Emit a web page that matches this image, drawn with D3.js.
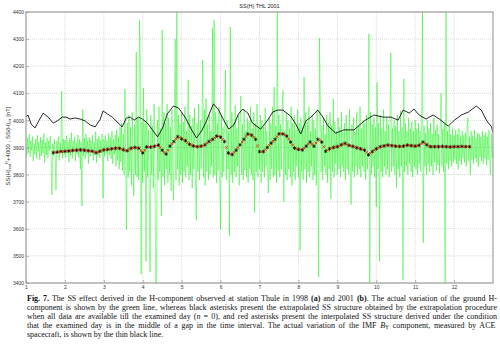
<!DOCTYPE html>
<html>
<head>
<meta charset="utf-8">
<script src="https://cdn.jsdelivr.net/npm/d3@7"></script>
<style>
  body { margin: 0; background: #fff; }
  svg { display: block; }
</style>
</head>
<body>
<svg id="ss_chart" width="500" height="349"></svg>
<script>
// tick labels
const xTicks = [1, 2, 3, 4, 5, 6, 7, 8, 9, 10, 11, 12]
const yTicks = [3400, 3500, 3600, 3700, 3800, 3900, 4000, 4100, 4200, 4300, 4400]

// ground H-component, half-hourly samples starting at day 1 (one row per day)
const hStartDay = 1, hStepDays = 1 / 48
const hValues = [
    3905, 3870, 3935, 3880, 3950, 3865, 3925, 3890, 3940, 3850, 3915, 3875, 3930, 3860, 3945, 3885,
    3920, 3855, 3938, 3870, 3928, 3880, 3952, 3845, 3918, 3872, 3936, 3862, 3925, 3888, 3942, 3858,
    3725, 3915, 3870, 3930, 3866, 3743, 3924, 3878, 3940, 3852, 3918, 3884, 4108, 3860, 3932, 3874,

    3928, 3862, 3944, 3880, 3920, 3846, 3934, 3870, 3955, 3858, 3926, 3882, 3940, 3850, 3918, 3876,
    3946, 3864, 3930, 3820, 3922, 3684, 4040, 3868, 3936, 3858, 3950, 3876, 3924, 3840, 3938, 3866,
    3928, 3884, 3946, 3852, 3920, 3872, 3958, 3845, 3932, 3870, 3942, 3862, 3926, 3880, 3950, 3713,

    3930, 3866, 3944, 3878, 3925, 3850, 3952, 3872, 3936, 3858, 3960, 3840, 3930, 3875, 3948, 3830,
    3965, 3852, 3940, 3820, 3975, 3846, 3990, 3815, 3950, 3800, 4116, 3830, 3596, 3990, 3790, 4020,
    3810, 3975, 3760, 4030, 3820, 3720, 3985, 3800, 4252, 3790, 4010, 3780, 4370, 4215, 3432, 3995,

    3770, 4120, 3810, 3990, 3480, 4040, 3790, 3965, 3760, 3440, 4020, 3800, 3980, 3750, 4060, 3820,
    3400, 3400, 4000, 3780, 4050, 3810, 3970, 3647, 4334, 3790, 4030, 3760, 3990, 3820, 4060, 3770,
    4010, 3800, 3975, 3740, 4040, 3810, 3705, 3990, 4300, 3780, 4400, 3820, 4020, 3760, 3985, 3800,

    4030, 3770, 3995, 3810, 4050, 3790, 3960, 3830, 4150, 3780, 4020, 3800, 3980, 3750, 4010, 3820,
    4045, 3790, 3632, 3990, 3810, 4060, 3780, 4000, 3820, 3970, 4223, 3790, 4040, 3760, 4080, 3810,
    3985, 3780, 4020, 3800, 3960, 3830, 4341, 3790, 4370, 3800, 4030, 3770, 3990, 3815, 4050, 3760,

    3597, 4020, 3790, 3975, 3810, 4040, 4186, 3780, 4000, 3820, 3960, 3574, 4345, 3800, 4030, 3770,
    3990, 3810, 4055, 3790, 3970, 3830, 4020, 3760, 4000, 4090, 3800, 3985, 3780, 4040, 3815, 3960,
    3790, 4010, 3770, 3995, 3820, 4050, 3800, 3970, 3780, 4030, 3660, 3990, 3810, 4060, 3790, 3980,

    3820, 4020, 3770, 4000, 3810, 3975, 3790, 4045, 3830, 3960, 3800, 3732, 4010, 3780, 3990, 3820,
    4050, 3790, 4123, 3800, 3980, 3770, 4400, 3815, 4020, 3790, 3985, 3820, 4040, 4110, 3700, 3960,
    3800, 4030, 3780, 4000, 3820, 3970, 3790, 4050, 3760, 3990, 3810, 4020, 3780, 3965, 3830, 4040,

    3790, 3990, 3520, 4010, 3810, 3975, 3780, 4160, 3820, 4030, 3770, 3995, 3810, 4050, 3790, 3960,
    3830, 4020, 3780, 4000, 3800, 3970, 3760, 4040, 3820, 3422, 4304, 4060, 3810, 3980, 3780, 4010,
    3830, 3950, 3800, 4020, 3770, 3990, 3820, 4030, 3710, 3980, 3810, 4080, 3790, 3995, 3840, 3960,

    3800, 4010, 3820, 3975, 3790, 4030, 3830, 3960, 3810, 3990, 3780, 4020, 3820, 3970, 3800, 4040,
    3830, 3690, 3985, 3810, 4010, 3790, 3960, 3830, 4030, 3800, 3980, 3820, 4050, 3790, 3970, 3830,
    4000, 3810, 3990, 3780, 4020, 3820, 3960, 4320, 3400, 4030, 3800, 3985, 3830, 4010, 3790, 3975,

    3680, 4140, 3820, 3990, 3480, 4020, 3810, 3970, 3790, 4040, 3830, 3960, 3800, 4010, 3820, 3985,
    3790, 4030, 4250, 3810, 3970, 3830, 4000, 3800, 3980, 3750, 4020, 3820, 3960, 3790, 4035, 3830,
    3975, 3410, 4153, 3810, 3990, 3830, 3960, 3800, 4010, 3840, 3970, 3810, 3995, 3790, 3960, 3830,

    4000, 3820, 3970, 3800, 3990, 3840, 3960, 3810, 4020, 4400, 3548, 3980, 3830, 3955, 3800, 4000,
    3840, 3970, 3810, 3990, 3830, 3950, 3800, 4010, 3845, 3965, 3815, 3985, 3835, 3950, 3805, 4000,
    4100, 3830, 3970, 3810, 3990, 3400, 4400, 3840, 3960, 3820, 3980, 3850, 3950, 3830, 3970, 3845,

    3945, 3855, 3965, 3840, 3950, 3820, 3970, 3850, 3940, 3835, 3960, 3860, 3945, 3845, 3955, 3830,
    3975, 4010, 3850, 3940, 3800, 3960, 3855, 3945, 3840, 3965, 3860, 3935, 3845, 3955, 3830, 3950,
    3865, 3940, 3850, 3960, 3840, 3945, 3860, 3955, 3835, 3940, 3855, 3965, 3845, 3800, 3950, 3860,

    3905
]

// IMF By (thin black line), read at irregular days
const imfDays = [
    1.00, 1.05, 1.13, 1.23, 1.34, 1.44, 1.57, 1.70, 1.80, 1.93, 2.03, 2.13, 2.26, 2.39, 2.52, 2.65,
    2.78, 2.91, 2.98, 3.09, 3.22, 3.37, 3.47, 3.58, 3.68, 3.78, 3.89, 3.99, 4.12, 4.25, 4.38, 4.51,
    4.63, 4.79, 4.92, 5.10, 5.23, 5.38, 5.51, 5.64, 5.74, 5.82, 5.95, 6.08, 6.21, 6.34, 6.46, 6.57,
    6.70, 6.82, 7.03, 7.21, 7.34, 7.47, 7.60, 7.80, 7.93, 8.06, 8.19, 8.32, 8.50, 8.63, 8.76, 8.96,
    9.17, 9.43, 9.69, 9.94, 10.18, 10.38, 10.56, 10.69, 10.85, 10.97, 11.10, 11.28, 11.46, 11.62,
    11.85, 12.01, 12.19, 12.37, 12.57, 12.70, 12.83, 12.96, 13.00
]
const imfValues = [
    4012, 4020, 3987, 3972, 4001, 4027, 4012, 3990, 3998, 4012, 4012, 4005, 4009, 4005, 3998, 3983,
    3976, 4005, 4035, 4024, 4012, 3990, 3976, 4009, 4012, 4001, 4012, 4005, 3990, 3965, 3939, 3972,
    4024, 4053, 4046, 4009, 3972, 3935, 3961, 3998, 4035, 4061, 4038, 4001, 3968, 3983, 4024, 4042,
    4027, 3990, 3968, 4001, 4031, 4038, 4038, 4016, 3987, 3950, 3998, 4012, 4038, 4012, 3979, 3953,
    3965, 3965, 3998, 4020, 4012, 4012, 4001, 4038, 4027, 4042, 4020, 4005, 4020, 4005,
    3979, 4001, 4020, 4031, 4053, 4038, 4001, 3976, 3955
]

// extrapolated SS structure (black asterisks), every 0.1 day from 1.7
const extStartDay = 1.7, extStepDays = 0.1
const extValues = [
    3881, 3883, 3885, 3886, 3887, 3889, 3890, 3891, 3890, 3888, 3886, 3881, 3886, 3891, 3893, 3895,
    3897, 3897, 3892, 3888, 3897, 3900, 3897, 3880, 3902, 3901, 3904, 3909, 3890, 3876, 3905, 3922,
    3940, 3932, 3925, 3912, 3906, 3903, 3905, 3910, 3922, 3930, 3942, 3938, 3922, 3880, 3874, 3890,
    3910, 3930, 3950, 3945, 3930, 3885, 3885, 3900, 3916, 3930, 3950, 3950, 3942, 3920, 3898, 3893,
    3891, 3905, 3920, 3905, 3930, 3920, 3886, 3895, 3900, 3903, 3910, 3915, 3908, 3904, 3899, 3895,
    3890, 3873, 3885, 3895, 3903, 3906, 3909, 3907, 3905, 3904, 3905, 3909, 3907, 3905, 3908, 3920,
    3910, 3903, 3903, 3903, 3904, 3903, 3902, 3903, 3903, 3904, 3903, 3903
]

// interpolated SS structure (red asterisks), every 0.1 day from 1.75
const intStartDay = 1.75, intStepDays = 0.1
const intValues = [
    3882, 3884, 3886, 3887, 3888, 3890, 3891, 3891, 3889, 3887, 3884, 3883, 3889, 3892, 3894, 3896,
    3898, 3895, 3889, 3893, 3899, 3899, 3888, 3890, 3902, 3903, 3907, 3900, 3882, 3890, 3914, 3932,
    3937, 3928, 3918, 3909, 3904, 3904, 3907, 3916, 3926, 3936, 3941, 3930, 3900, 3876, 3882, 3900,
    3920, 3941, 3948, 3938, 3906, 3884, 3892, 3908, 3923, 3940, 3951, 3946, 3931, 3909, 3895, 3892,
    3898, 3913, 3912, 3917, 3926, 3903, 3890, 3898, 3902, 3906, 3913, 3911, 3906, 3901, 3897, 3892,
    3882, 3879, 3890, 3899, 3904, 3908, 3908, 3906, 3904, 3904, 3907, 3908, 3906, 3906, 3914, 3915,
    3906, 3903, 3903, 3903, 3903, 3902, 3902, 3903, 3903, 3903, 3903
]

const captionLines = [
    [["b", "Fig. 7."], ["r", " The SS effect derived in the H-component observed at station Thule in 1998 "], ["b", "(a)"], ["r", " and 2001 "], ["b", "(b)"], ["r", ". The actual variation of the ground H-"]],
    [["r", "component is shown by the green line, whereas black asterisks present the extrapolated SS structure obtained by the extrapolation procedure"]],
    [["r", "when all data are available till the examined day ("], ["i", "n"], ["r", " = 0), and red asterisks present the interpolated SS structure derived under the condition"]],
    [["r", "that the examined day is in the middle of a gap in the time interval.  The actual variation of the IMF "], ["i", "B"], ["s", "Y"], ["r", " component, measured by ACE"]],
    [["r", "spacecraft, is shown by the thin black line."]]
]

function setup_SSChart() {
    const margins = { top: 12, bottom: 66, right: 7, left: 26 }
    const svg = d3.select("#ss_chart")
    const width = 500 - margins.left - margins.right
    const height = 349 - margins.top - margins.bottom
    const AXIS_FONT = "'Liberation Sans', Arial, sans-serif"

    const xRange = d3.scaleLinear().domain([1, 13]).range([margins.left, margins.left + width])
    const yRange = d3.scaleLinear().domain([3400, 4400]).range([margins.top + height, margins.top])

    svg.append("defs").append("clipPath")
        .attr("id", "plot_clip")
        .append("rect")
        .attr("x", margins.left)
        .attr("y", margins.top)
        .attr("width", width)
        .attr("height", height)

    // dotted grid
    svg.append("g")
        .selectAll("line")
        .data(xTicks)
        .enter()
        .append("line")
        .attr("x1", d => xRange(d)).attr("x2", d => xRange(d))
        .attr("y1", margins.top).attr("y2", margins.top + height)
        .attr("stroke", "#c8c8c8")
        .attr("stroke-width", 0.7)
        .attr("stroke-dasharray", "1,1")
    svg.append("g")
        .selectAll("line")
        .data(yTicks)
        .enter()
        .append("line")
        .attr("x1", margins.left).attr("x2", margins.left + width)
        .attr("y1", d => yRange(d)).attr("y2", d => yRange(d))
        .attr("stroke", "#c8c8c8")
        .attr("stroke-width", 0.7)
        .attr("stroke-dasharray", "1,1")

    const plot = svg.append("g").attr("clip-path", "url(#plot_clip)")

    // ground H (green)
    const hLine = d3.line()
        .x((d, i) => xRange(hStartDay + i * hStepDays))
        .y(d => yRange(d))
    plot.append("path")
        .datum(hValues)
        .attr("d", hLine)
        .attr("fill", "none")
        .attr("stroke", "#00f000")
        .attr("stroke-opacity", 0.65)
        .attr("stroke-width", 0.65)

    // IMF By (thin black)
    const imfLine = d3.line()
        .x((d, i) => xRange(imfDays[i]))
        .y(d => yRange(d))
    plot.append("path")
        .datum(imfValues)
        .attr("d", imfLine)
        .attr("fill", "none")
        .attr("stroke", "#111")
        .attr("stroke-width", 0.9)

    // asterisks
    const star = d3.symbol().type(d3.symbolAsterisk || d3.symbolCross).size(9)
    plot.selectAll(".ext_star")
        .data(extValues)
        .enter()
        .append("path")
        .attr("class", "ext_star")
        .attr("d", star)
        .attr("transform", (d, i) => "translate(" + xRange(extStartDay + i * extStepDays) + "," + yRange(d) + ")")
        .attr("fill", "none")
        .attr("stroke", "#000")
        .attr("stroke-width", 0.8)

    const cross = d3.symbol().type(d3.symbolTimes || d3.symbolCross).size(5)
    plot.selectAll(".int_star")
        .data(intValues)
        .enter()
        .append("path")
        .attr("class", "int_star")
        .attr("d", cross)
        .attr("transform", (d, i) => "translate(" + xRange(intStartDay + i * intStepDays) + "," + yRange(d) + ")")
        .attr("fill", "none")
        .attr("stroke", "#f02a00")
        .attr("stroke-width", 0.9)

    // frame
    svg.append("rect")
        .attr("x", margins.left)
        .attr("y", margins.top)
        .attr("width", width)
        .attr("height", height)
        .attr("fill", "none")
        .attr("stroke", "#a0a0a0")
        .attr("stroke-width", 1.2)

    const xAxis = svg.append("g")
        .attr("transform", "translate(0," + (margins.top + height) + ")")
        .call(d3.axisBottom(xRange).tickValues(xTicks).tickSize(-3).tickPadding(2))
    const yAxis = svg.append("g")
        .attr("transform", "translate(" + margins.left + ",0)")
        .call(d3.axisLeft(yRange).tickValues(yTicks).tickFormat(d3.format("d")).tickSize(-3).tickPadding(2))
    for (const ax of [xAxis, yAxis]) {
        ax.select(".domain").remove()
        ax.selectAll("line").attr("stroke", "#888").attr("stroke-width", 0.6)
        ax.selectAll("text")
            .attr("font-family", AXIS_FONT)
            .attr("font-size", "5px")
            .attr("fill", "#333")
    }

    // title
    svg.append("text")
        .attr("x", margins.left + width / 2)
        .attr("y", 8)
        .attr("text-anchor", "middle")
        .attr("font-family", AXIS_FONT)
        .attr("font-size", "5.5px")
        .attr("fill", "#222")
        .text("SS(H) THL 2001")

    // y label
    const yLabel = svg.append("text")
        .attr("transform", "translate(10,146) rotate(-90)")
        .attr("text-anchor", "middle")
        .attr("font-family", AXIS_FONT)
        .attr("font-size", "6px")
        .attr("fill", "#333")
    yLabel.append("tspan").text("SS(H)")
    yLabel.append("tspan").attr("font-size", "4px").attr("dy", 1.4).text("ext")
    yLabel.append("tspan").attr("font-size", "4px").attr("dy", -3).text("H")
    yLabel.append("tspan").attr("dy", 1.6).text("+4000 , SS(H)")
    yLabel.append("tspan").attr("font-size", "4px").attr("dy", 1.4).text("int")
    yLabel.append("tspan").attr("dy", -1.4).text(" [nT]")

    // caption, justified like the journal text
    const CAPTION_LEFT = 27, CAPTION_RIGHT = 497, CAPTION_TOP = 301, LINE_STEP = 8.9
    const target = CAPTION_RIGHT - CAPTION_LEFT
    const texts = captionLines.map((parts, li) => {
        const t = svg.append("text")
            .attr("x", 0)
            .attr("y", 0)
            .attr("font-family", "'Liberation Serif', 'Times New Roman', serif")
            .attr("font-size", "8px")
            .attr("fill", "#111")
        parts.forEach((p, pi) => {
            const span = t.append("tspan").text(p[1])
            if (p[0] === "b") span.attr("font-weight", "bold")
            if (p[0] === "i") span.attr("font-style", "italic")
            if (p[0] === "s") span.attr("font-size", "5.5px").attr("dy", 1.5)
            if (pi > 0 && parts[pi - 1][0] === "s") span.attr("dy", -1.5)
        })
        return t
    })
    // squeeze only if the longest line does not fit, then justify with word spacing
    const widths = texts.map(t => t.node().getComputedTextLength())
    const squeeze = Math.min(1, target / d3.max(widths.slice(0, 4)))
    texts.forEach((t, li) => {
        let tr = "translate(" + CAPTION_LEFT + "," + (CAPTION_TOP + li * LINE_STEP) + ")"
        if (squeeze < 1) tr += " scale(" + squeeze + ",1)"
        t.attr("transform", tr)
        if (li < texts.length - 1) {
            const spaces = captionLines[li].map(p => p[1]).join("").split(" ").length - 1
            const extra = (target / squeeze - widths[li]) / spaces
            t.attr("word-spacing", extra + "px")
        }
    })
}

setup_SSChart()
</script>
</body>
</html>
